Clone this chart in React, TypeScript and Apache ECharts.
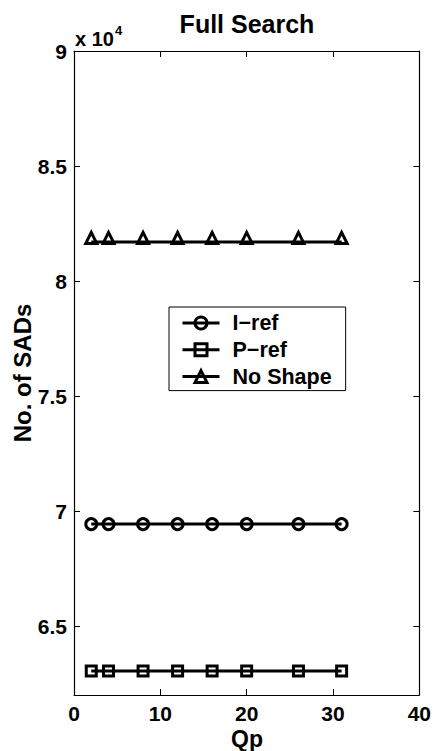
import React, { useEffect, useRef } from "react";
import * as echarts from "echarts";

const qp = [2, 4, 8, 12, 16, 20, 26, 31];
const iRef = [69430, 69430, 69430, 69430, 69430, 69430, 69430, 69430];
const pRef = [63040, 63040, 63040, 63040, 63040, 63040, 63040, 63040];
const noShape = [81700, 81700, 81700, 81700, 81700, 81700, 81700, 81700];
const yTicks = [65000, 70000, 75000, 80000, 85000, 90000];
const xTicks = [0, 10, 20, 30, 40];

const FONT = "'Liberation Sans', Arial, Helvetica, sans-serif";

export default function App() {
  const ref = useRef<HTMLDivElement>(null);
  useEffect(() => {
    if (!ref.current) return;
    const chart = echarts.init(ref.current, null, { renderer: "svg" });
    const mk = (name: string, data: number[], symbol: string, size: number, offset: number[]) => ({
      name,
      type: "line",
      data: qp.map((x, i) => [x, data[i]]),
      symbol,
      symbolSize: size,
      symbolOffset: offset,
      showAllSymbol: true,
      lineStyle: { color: "#000", width: 3 },
      itemStyle: { color: "rgba(255,255,255,0)", borderColor: "#000", borderWidth: 3 },
      emphasis: { disabled: true },
      z: 3,
    });
    const axisCommon = {
      axisLine: { show: true, onZero: false, lineStyle: { color: "#000", width: 1.2 } },
      axisTick: { show: true, inside: true, length: 6, lineStyle: { color: "#000", width: 1 } },
      splitLine: { show: false },
    };
    chart.setOption({
      animation: false,
      backgroundColor: "#fff",
      grid: { left: 74, right: 14, top: 51, bottom: 56 },
      xAxis: [
        {
          type: "value",
          min: 0,
          max: 40,
          interval: 10,
          position: "bottom",
          ...axisCommon,
          axisLabel: {
            show: true,
            margin: 8,
            color: "#000",
            fontFamily: FONT,
            fontWeight: "bold",
            fontSize: 21,
            customValues: xTicks,
          },
        },
        {
          type: "value",
          min: 0,
          max: 40,
          interval: 10,
          position: "top",
          ...axisCommon,
          axisLabel: { show: false },
        },
      ],
      yAxis: [
        {
          type: "value",
          min: 62000,
          max: 90000,
          position: "left",
          ...axisCommon,
          axisTick: { ...axisCommon.axisTick, customValues: yTicks },
          axisLabel: {
            show: true,
            margin: 7,
            color: "#000",
            fontFamily: FONT,
            fontWeight: "bold",
            fontSize: 21,
            customValues: yTicks,
            formatter: (v: number) => String(v / 10000),
          },
        },
        {
          type: "value",
          min: 62000,
          max: 90000,
          position: "right",
          ...axisCommon,
          axisTick: { ...axisCommon.axisTick, customValues: yTicks },
          axisLabel: { show: false },
        },
      ],
      legend: {
        show: true,
        orient: "vertical",
        left: 169,
        top: 307,
        padding: [5, 14, 3, 12],
        itemWidth: 37,
        itemHeight: 15,
        itemGap: 4.8,
        borderColor: "#000",
        borderWidth: 1,
        backgroundColor: "#fff",
        lineStyle: { width: 3, color: "#000" },
        itemStyle: { borderWidth: 3, borderColor: "#000", color: "rgba(255,255,255,0)" },
        textStyle: {
          color: "#000",
          fontFamily: FONT,
          fontWeight: "bold",
          fontSize: 21.5,
          padding: [0, 0, 0, 8],
        },
        data: ["I\u2212ref", "P\u2212ref", "No Shape"],
      },
      graphic: [
        {
          type: "text",
          style: {
            text: "Full Search",
            x: 247,
            y: 24,
            align: "center",
            verticalAlign: "middle",
            fill: "#000",
            font: `bold 25px ${FONT}`,
          },
        },
        {
          type: "text",
          style: {
            text: "Qp",
            x: 247,
            y: 750,
            align: "center",
            verticalAlign: "bottom",
            fill: "#000",
            font: `bold 23px ${FONT}`,
          },
        },
        {
          type: "text",
          x: 22,
          y: 373,
          rotation: Math.PI / 2,
          style: {
            text: "No. of SADs",
            x: 0,
            y: 0,
            align: "center",
            verticalAlign: "middle",
            fill: "#000",
            font: `bold 24px ${FONT}`,
          },
        },
        {
          type: "text",
          style: {
            text: "{a|x 10}{s|4}",
            x: 75,
            y: 36,
            verticalAlign: "middle",
            rich: {
              a: { fill: "#000", font: `bold 20px ${FONT}`, verticalAlign: "bottom" },
              s: { fill: "#000", font: `bold 13px ${FONT}`, verticalAlign: "top", padding: [0, 0, 12, 1] },
            },
          },
        },
      ],
      series: [
        mk("I\u2212ref", iRef, "circle", 11, [0, 0]),
        mk("P\u2212ref", pRef, "rect", 10, [0, 0]),
        mk("No Shape", noShape, "triangle", 11, [0, -4]),
      ],
    });
    return () => chart.dispose();
  }, []);
  return (
    <div
      ref={ref}
      style={{ position: "fixed", left: 0, top: 0, width: 434, height: 751, background: "#fff" }}
    />
  );
}
